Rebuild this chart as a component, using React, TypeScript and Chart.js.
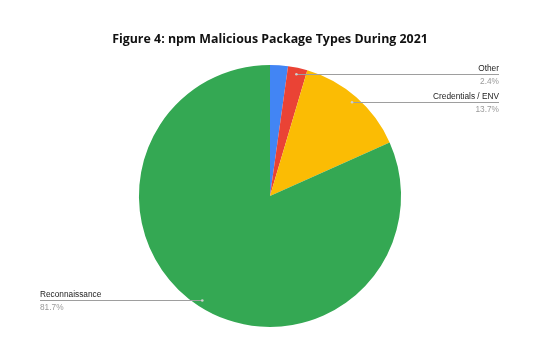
import React, { useEffect, useRef } from "react";
import { Chart, registerables } from "chart.js";

Chart.register(...registerables);

const categories = ["Unlabeled", "Other", "Credentials / ENV", "Reconnaissance"];
const shares = [2.2, 2.4, 13.7, 81.7];
const shownLabels = ["", "Other", "Credentials / ENV", "Reconnaissance"];
const percentLabels = ["", "2.4%", "13.7%", "81.7%"];
const colors = ["#4285F4", "#EA4335", "#FBBC04", "#34A853"];
const titleText = "Figure 4: npm Malicious Package Types During 2021";

const calloutPlugin = {
  id: "callouts",
  afterDraw(chart: any) {
    const ctx = chart.ctx;
    const meta = chart.getDatasetMeta(0);
    meta.data.forEach((arc: any, i: number) => {
      if (!shownLabels[i]) return;
      const mid = (arc.startAngle + arc.endAngle) / 2;
      const r = arc.outerRadius * 0.95;
      const px = arc.x + Math.cos(mid) * r;
      const py = arc.y + Math.sin(mid) * r;
      const right = Math.cos(mid) > 0;
      const endX = right ? 499 : 40;
      const y = Math.round(py) + 0.5;
      ctx.save();
      ctx.strokeStyle = "#9e9e9e";
      ctx.lineWidth = 1;
      ctx.beginPath();
      ctx.moveTo(px, y);
      ctx.lineTo(endX, y);
      ctx.stroke();
      ctx.fillStyle = "#cfcfcf";
      ctx.beginPath();
      ctx.arc(px, py, 1.3, 0, Math.PI * 2);
      ctx.fill();
      ctx.textAlign = right ? "right" : "left";
      ctx.textBaseline = "middle";
      ctx.font = "8.3px 'Liberation Sans', Arial, sans-serif";
      ctx.fillStyle = "#222222";
      ctx.fillText(shownLabels[i], endX, y - 6);
      ctx.fillStyle = "#9a9a9a";
      ctx.fillText(percentLabels[i], endX, y + 7);
      ctx.restore();
    });
  },
};

export default function App() {
  const ref = useRef<HTMLCanvasElement>(null);
  useEffect(() => {
    if (!ref.current) return;
    const chart = new Chart(ref.current, {
      type: "pie",
      data: {
        labels: categories,
        datasets: [
          {
            data: shares,
            backgroundColor: colors,
            borderWidth: 0,
          },
        ],
      },
      options: {
        animation: false,
        responsive: false,
        maintainAspectRatio: false,
        layout: { padding: { left: 100, right: 120, top: 0, bottom: 30 } },
        plugins: {
          legend: { display: false },
          tooltip: { enabled: false },
          title: {
            display: true,
            text: titleText,
            color: "#111111",
            font: { family: "'Open Sans', sans-serif", size: 12.4, weight: "bold", lineHeight: 1.2 },
            padding: { top: 32, bottom: 18 },
          },
        },
      },
      plugins: [calloutPlugin],
    });
    return () => chart.destroy();
  }, []);
  return (
    <div style={{ position: "fixed", left: 0, top: 0, width: 560, height: 357, background: "#fff" }}>
      <canvas ref={ref} width={560} height={357} />
    </div>
  );
}
